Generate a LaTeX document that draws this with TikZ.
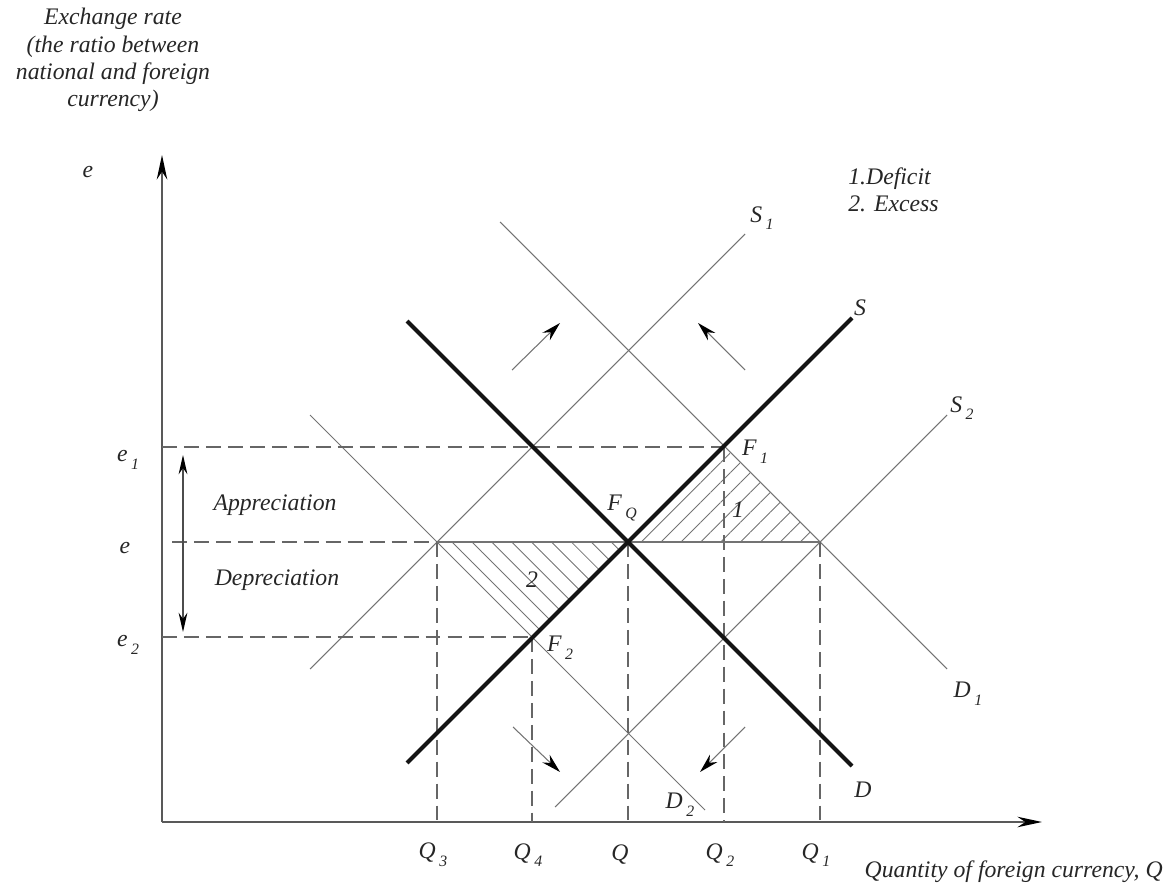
\documentclass[tikz,border=0pt]{standalone}
\usepackage{fontspec}
\setmainfont{Liberation Serif}
\usetikzlibrary{arrows.meta,patterns.meta}
\newcommand{\sbl}[2]{#1\kern2pt\raisebox{-0.7ex}{\fontsize{9}{9}\selectfont #2}}
\begin{document}
\begin{tikzpicture}[x=0.02cm,y=-0.02cm,
  lbl/.style={font=\itshape\fontsize{13.5}{15.5}\selectfont, inner sep=0pt, text=black!85},
  thinln/.style={draw=black!55, line width=0.6pt},
  thickln/.style={draw=black!92, line width=2.3pt},
  dashln/.style={draw=black!60, line width=0.8pt, dash pattern=on 8.5pt off 4pt},
  axisln/.style={draw=black!65, line width=0.9pt, -{Stealth[length=14pt,width=6pt,black]}},
  shiftarr/.style={draw=black!55, line width=0.6pt, -{Stealth[length=11pt,width=6pt,black]}},
  dblarr/.style={draw=black!70, line width=0.7pt, {Stealth[length=11pt,width=5pt,black]}-{Stealth[length=11pt,width=5pt,black]}},
]
\path[use as bounding box] (0,0) rectangle (1167,885);

% key points
\coordinate (O) at (162,822);
\coordinate (Ytop) at (162,155);
\coordinate (Xend) at (1042,822);
\coordinate (FQ) at (628,542);
\coordinate (F1) at (724,447);
\coordinate (F2) at (532,637);
\coordinate (A) at (437,542);
\coordinate (B) at (820,542);

% hatched regions
\fill[pattern={Lines[angle=45,distance=8pt,line width=0.5pt]}, pattern color=black!55] (FQ) -- (F1) -- (B) -- cycle;
\fill[pattern={Lines[angle=-45,distance=8pt,line width=0.5pt]}, pattern color=black!55] (A) -- (FQ) -- (F2) -- cycle;

% axes
\draw[axisln] (O) -- (Ytop);
\draw[axisln] (O) -- (Xend);

% thin shifted curves
\coordinate (S1a) at (310,669); \coordinate (S1b) at (745,234);
\coordinate (D1a) at (500,222); \coordinate (D1b) at (947,669);
\coordinate (S2a) at (555,807); \coordinate (S2b) at (947,415);
\coordinate (D2a) at (310,415); \coordinate (D2b) at (705,810);
\draw[thinln] (S1a) -- (S1b);
\draw[thinln] (D1a) -- (D1b);
\draw[thinln] (S2a) -- (S2b);
\draw[thinln] (D2a) -- (D2b);

% dashed guides
\coordinate (e1L) at (162,447);
\coordinate (eL) at (172,542);
\coordinate (e2L) at (162,637);
\coordinate (Q3b) at (437,822);
\coordinate (Q4b) at (532,822);
\coordinate (Qb) at (628,822);
\coordinate (Q2b) at (724,822);
\coordinate (Q1b) at (820,822);
\draw[dashln] (e1L) -- (F1);
\draw[dashln] (eL) -- (A);
\draw[dashln] (e2L) -- (F2);
\draw[dashln] (A) -- (Q3b);
\draw[dashln] (F2) -- (Q4b);
\draw[dashln] (FQ) -- (Qb);
\draw[dashln] (F1) -- (Q2b);
\draw[dashln] (B) -- (Q1b);
\draw[thinln] (A) -- (B);

% thick S and D
\coordinate (Sa) at (407,763); \coordinate (Sb) at (852,318);
\coordinate (Da) at (407,321); \coordinate (Db) at (852,766);
\draw[thickln] (Sa) -- (Sb);
\draw[thickln] (Da) -- (Db);

% shift arrows
\coordinate (a1s) at (512,370); \coordinate (a1e) at (560,323);
\coordinate (a2s) at (745,370); \coordinate (a2e) at (698,323);
\coordinate (a3s) at (513,727); \coordinate (a3e) at (560,772);
\coordinate (a4s) at (745,727); \coordinate (a4e) at (700,772);
\draw[shiftarr] (a1s) -- (a1e);
\draw[shiftarr] (a2s) -- (a2e);
\draw[shiftarr] (a3s) -- (a3e);
\draw[shiftarr] (a4s) -- (a4e);

% appreciation / depreciation arrow
\coordinate (dU) at (183,455); \coordinate (dD) at (183,632);
\draw[dblarr] (dU) -- (dD);

% texts
\node[lbl, align=center, anchor=north] (title) at (113,8) {Exchange rate\\(the ratio between\\national and foreign\\currency)};
\node[lbl] (ey) at (88,172) {e};
\node[lbl, align=left, anchor=west] (legend) at (848,190) {1.Deficit\\2. Excess};
\node[lbl] (le1) at (128,460) {\sbl{e}{1}};
\node[lbl] (le) at (125,548) {e};
\node[lbl] (le2) at (128,645) {\sbl{e}{2}};
\node[lbl] (appr) at (275,505) {Appreciation};
\node[lbl] (depr) at (277,580) {Depreciation};
\node[lbl] (lS1) at (762,218) {\sbl{S}{1}};
\node[lbl] (lS) at (860,308) {S};
\node[lbl] (lS2) at (962,408) {\sbl{S}{2}};
\node[lbl] (lD1) at (968,694) {\sbl{D}{1}};
\node[lbl] (lD) at (863,790) {D};
\node[lbl] (lD2) at (680,805) {\sbl{D}{2}};
\node[lbl] (lF1) at (755,452) {\sbl{F}{1}};
\node[lbl] (lFQ) at (622,508) {\sbl{F}{Q}};
\node[lbl] (lF2) at (560,648) {\sbl{F}{2}};
\node[lbl] (h1) at (738,510) {1};
\node[lbl] (h2) at (532,580) {2};
\node[lbl] (lQ3) at (433,855) {\sbl{Q}{3}};
\node[lbl] (lQ4) at (528,855) {\sbl{Q}{4}};
\node[lbl] (lQ) at (620,855) {Q};
\node[lbl] (lQ2) at (720,855) {\sbl{Q}{2}};
\node[lbl] (lQ1) at (816,855) {\sbl{Q}{1}};
\node[lbl, anchor=east] (xlab) at (1163,872) {Quantity of foreign currency, Q};
\end{tikzpicture}
\end{document}
